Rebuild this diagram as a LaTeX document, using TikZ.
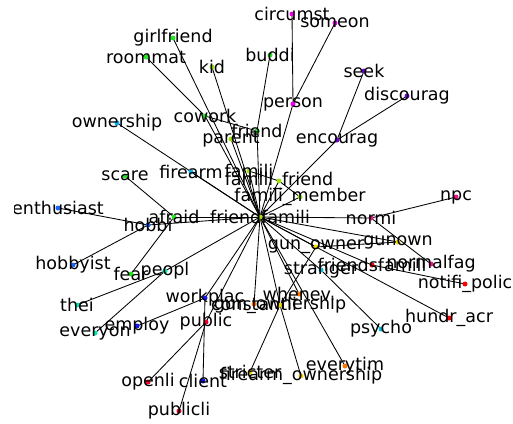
\documentclass[tikz,border=0pt]{standalone}
\usepackage{fontspec}
\setmainfont{DejaVu Sans}
\definecolor{cgreen}{HTML}{22E622}
\definecolor{cyg}{HTML}{A0E010}
\definecolor{cmag}{HTML}{F000F0}
\definecolor{cpur}{HTML}{7A00E6}
\definecolor{ccyanA}{HTML}{00B4F0}
\definecolor{cblueA}{HTML}{1A66FF}
\definecolor{cteal}{HTML}{00E6B4}
\definecolor{cblueB}{HTML}{1414F0}
\definecolor{credA}{HTML}{F0002A}
\definecolor{corange}{HTML}{FF7800}
\definecolor{cyellow}{HTML}{F0D800}
\definecolor{cpink}{HTML}{F0148C}
\definecolor{credB}{HTML}{FF0000}
\definecolor{ccyanB}{HTML}{00C0E0}
\tikzset{
  dot/.style={circle, inner sep=0pt, minimum size=5pt, fill=#1, draw=none},
  lbl/.style={inner sep=0pt, font=\fontsize{17.5}{19}\selectfont, text=black},
  edge/.style={draw=black, line width=0.85pt}
}
\begin{document}
\begin{tikzpicture}[x=1pt,y=-1pt]
\useasboundingbox (0,0) rectangle (513,423);
\clip (14,0) rectangle (513,423);
% node positions
\coordinate (H) at (260,217);
\coordinate (girlfriend) at (173,38);
\coordinate (roommat) at (146,57);
\coordinate (kid) at (212,67);
\coordinate (buddi) at (270,55);
\coordinate (circumst) at (292,14);
\coordinate (someon) at (335,23);
\coordinate (seek) at (364,71);
\coordinate (discourag) at (407,96);
\coordinate (person) at (293,104);
\coordinate (encourag) at (337,140);
\coordinate (ownership) at (117,123);
\coordinate (cowork) at (205,116);
\coordinate (friend) at (257,131);
\coordinate (parent) at (231,139);
\coordinate (firearm) at (191,172);
\coordinate (famili) at (249,171);
\coordinate (famfriend) at (279,181);
\coordinate (fammember) at (300,197);
\coordinate (scare) at (125,176);
\coordinate (enthusiast) at (58,208);
\coordinate (hobbi) at (148,225);
\coordinate (afraid) at (174,217);
\coordinate (hobbyist) at (73,265);
\coordinate (fear) at (131,274);
\coordinate (peopl) at (165,271);
\coordinate (thei) at (77,305);
\coordinate (workplac) at (205,298);
\coordinate (employ) at (137,326);
\coordinate (everyon) at (95,333);
\coordinate (public) at (206,322);
\coordinate (openli) at (148,382);
\coordinate (client) at (203,381);
\coordinate (publicli) at (179,411);
\coordinate (stricter) at (250,372);
\coordinate (firearmown) at (301,376);
\coordinate (everytim) at (345,366);
\coordinate (constantli) at (254,304);
\coordinate (gunownership) at (280,305);
\coordinate (whenev) at (299,294);
\coordinate (stranger) at (321,270);
\coordinate (gunowner) at (316,247);
\coordinate (gunown) at (398,242);
\coordinate (normi) at (371,218);
\coordinate (npc) at (456,197);
\coordinate (normalfag) at (431,264);
\coordinate (friendsfamili) at (372,265);
\coordinate (notifipolic) at (465,284);
\coordinate (hundracr) at (449,318);
\coordinate (psycho) at (381,329);
% edges
\foreach \a/\b in {H/girlfriend, roommat/cowork, cowork/friend, H/cowork, H/kid, buddi/friend, H/friend, H/parent,
  H/ownership, H/firearm, scare/afraid, H/afraid, enthusiast/hobbi, H/hobbi, hobbyist/hobbi, fear/afraid,
  H/peopl, thei/peopl, everyon/peopl, H/workplac, employ/workplac, client/workplac, H/public, openli/public,
  publicli/public, H/gunownership, stricter/gunownership, firearmown/gunownership, H/constantli, H/whenev,
  H/everytim, H/stranger, psycho/stranger, H/gunowner, gunowner/gunown, gunowner/gunownership, H/gunown,
  H/normi, npc/normi, normalfag/normi, H/friendsfamili, notifipolic/friendsfamili, H/hundracr, H/encourag,
  seek/encourag, discourag/encourag, H/person, circumst/person, someon/person, H/famili, famili/famfriend,
  famfriend/fammember, H/famfriend, H/fammember}
  \draw[edge] (\a) -- (\b);
% dots
\foreach \n/\c in {girlfriend/cgreen, roommat/cgreen, cowork/cgreen, buddi/cgreen, friend/cgreen, scare/cgreen,
  fear/cgreen, afraid/cgreen, kid/cyg, parent/cyg, famili/cyg, famfriend/cyg, fammember/cyg, H/cyg,
  circumst/cmag, someon/cmag, person/cmag, seek/cpur, discourag/cpur, encourag/cpur,
  ownership/ccyanA, firearm/ccyanA, enthusiast/cblueA, hobbi/cblueA, hobbyist/cblueA,
  peopl/cteal, thei/cteal, everyon/cteal, workplac/cblueB, employ/cblueB, client/cblueB,
  public/credA, openli/credA, publicli/credA, constantli/corange, whenev/corange, everytim/corange,
  stricter/cyellow, firearmown/cyellow, gunownership/cyellow, gunowner/cyellow, gunown/cyellow,
  normi/cpink, npc/cpink, normalfag/cpink, friendsfamili/credB, notifipolic/credB, hundracr/credB,
  stranger/ccyanB, psycho/ccyanB}
  \node[dot=\c] (\n-d) at (\n) {};
% labels
\foreach \n/\t in {H/friendfamili, girlfriend/girlfriend, roommat/roommat, kid/kid, buddi/buddi, circumst/circumst,
  someon/someon, seek/seek, discourag/discourag, person/person, encourag/encourag, ownership/ownership,
  cowork/cowork, friend/friend, parent/parent, firearm/firearm, famili/famili, famfriend/famili\_friend,
  fammember/famili\_member, scare/scare, enthusiast/enthusiast, hobbi/hobbi, afraid/afraid, hobbyist/hobbyist,
  fear/fear, peopl/peopl, thei/thei, workplac/workplac, employ/employ, everyon/everyon, public/public,
  openli/openli, client/client, publicli/publicli, stricter/stricter, firearmown/firearm\_ownership,
  everytim/everytim, constantli/constantli, gunownership/gun\_ownership, whenev/whenev., stranger/stranger,
  gunowner/gun\_owner, gunown/gunown, normi/normi, npc/npc, normalfag/normalfag, friendsfamili/friendsfamili,
  notifipolic/notifi\_polic, hundracr/hundr\_acr, psycho/psycho}
  \node[lbl] (\n-l) at (\n) {\t};
\end{tikzpicture}
\end{document}
